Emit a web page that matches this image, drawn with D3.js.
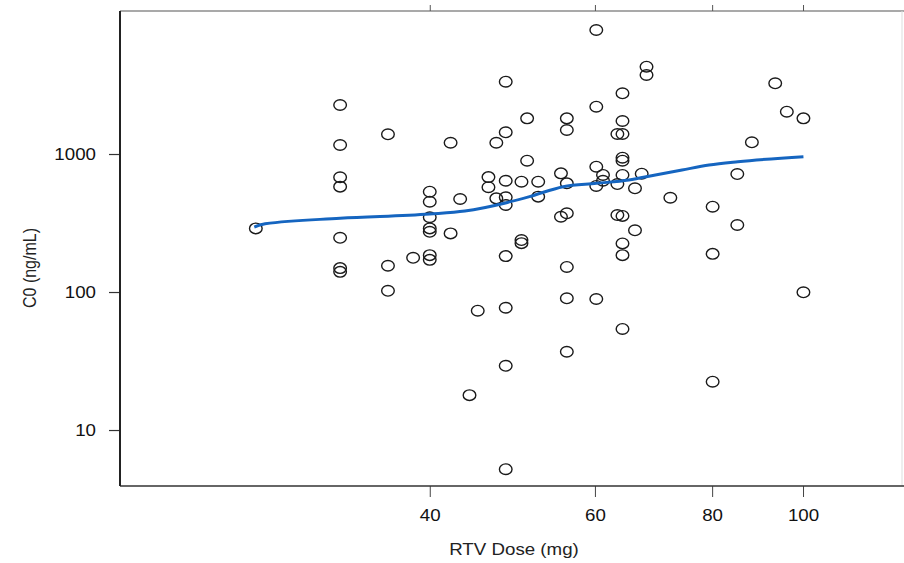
<!DOCTYPE html>
<html><head><meta charset="utf-8">
<script src="https://cdn.jsdelivr.net/npm/d3@7"></script>
<style>
body{margin:0;background:#fff}
svg{display:block}
text{font-family:"Liberation Sans",Arial,Helvetica,sans-serif}
</style>
</head><body>
<svg id="chart" width="904" height="563"></svg>
<script>
// ---- data ----
const doses = [
  26.1,
  32.1,32.1,32.1,32.1,32.1,32.1,32.1,
  36.1,36.1,36.1,
  38.4,
  40,40,40,40,40,40,40,
  42.1,42.1,
  43.1,
  44.1,
  45,
  46.2,46.2,
  47.1,47.1,
  48.2,48.2,48.2,48.2,48.2,48.2,48.2,48.2,48.2,
  50.1,50.1,50.1,
  50.8,50.8,
  52.2,52.2,
  55.2,55.2,
  56,56,56,56,56,56,56,
  60.2,60.2,60.2,60.2,60.2,
  61.2,61.2,
  63.4,63.4,63.4,
  64.2,64.2,64.2,64.2,64.2,64.2,64.2,64.2,64.2,64.2,
  66.2,66.2,
  67.3,
  68.1,68.1,
  72.2,
  80.1,80.1,80.1,
  85.1,85.1,
  88.2,
  93.4,
  96.1,
  100.1,100.1
];
const c0 = [
  289,
  2265,1162,678,580,247,149,140,
  1389,155,102,
  177,
  533,451,348,289,273,185,171,
  1207,266,
  472,
  17.9,
  73.2,
  680,575,
  1207,477,
  3342,1436,640,486,427,182,76.9,29.2,5.2,
  630,238,226,
  1813,894,
  630,491,
  724,351,
  1813,1493,613,372,152,90,36.9,
  7918,2202,809,587,89,
  705,640,
  1396,606,361,
  2754,1735,1396,940,894,705,356,225,185,54,
  564,280,
  720,
  4292,3737,
  482,
  415,189,22.4,
  716,306,
  1216,
  3253,
  2026,
  1813,99.5
];
const smoothDose = [26.0,26.7,32.1,40,43.6,48.3,51.1,55.5,60.2,65.2,69.6,74.3,79.4,85.2,100.1];
const smoothC0   = [296,312,342,367,386,444,491,580,613,648,705,766,832,879,956];
const xTicks = [40,60,80,100];
const yTicks = [10,100,1000];
const xTitle = "RTV Dose (mg)";
const yTitle = "C0 (ng/mL)";

// ---- layout ----
const L = 120, R = 902, T = 11, B = 486;
const SX = 1.17; // horizontal stretch of the reference glyphs

const svg = d3.select("#chart");
const x = d3.scaleLog().domain([18.7, 127.5]).range([L, R]);
const y = d3.scaleLog().domain([3.93, 10870]).range([B, T]);

// frame
svg.append("line").attr("x1",L).attr("x2",904).attr("y1",T).attr("y2",T)
  .attr("stroke","#555").attr("stroke-width",1.2);
svg.append("line").attr("x1",R).attr("x2",R).attr("y1",T).attr("y2",B)
  .attr("stroke","#ddd").attr("stroke-width",1);

// top ticks (mirrored)
svg.append("g").attr("transform",`translate(0,${T})`)
  .call(d3.axisTop(x).tickValues(xTicks).tickSize(6).tickFormat(""))
  .call(g=>{g.select(".domain").remove(); g.selectAll("line").attr("stroke","#555");});

// bottom axis
const gx = svg.append("g").attr("transform",`translate(0,${B})`)
  .call(d3.axisBottom(x).tickValues(xTicks).tickSize(11).tickPadding(0).tickFormat(d3.format("d")));
gx.select(".domain").remove();
gx.selectAll("line").attr("stroke","#444").attr("stroke-width",1);
gx.selectAll("text").attr("y",35).attr("dy",null)
  .attr("font-size",16).attr("fill","#111")
  .attr("transform",`scale(${SX},1)`);
svg.append("line").attr("x1",L).attr("x2",904).attr("y1",B).attr("y2",B)
  .attr("stroke","#333").attr("stroke-width",1.6);

// left axis
const gy = svg.append("g").attr("transform",`translate(${L},0)`)
  .call(d3.axisLeft(y).tickValues(yTicks).tickSize(11).tickFormat(d3.format("d")));
gy.select(".domain").remove();
gy.selectAll("line").attr("stroke","#333").attr("stroke-width",1.2);
gy.selectAll("text").attr("x",-24/SX).attr("dy","0.36em")
  .attr("font-size",16).attr("fill","#111")
  .attr("transform",`scale(${SX},1)`);
svg.append("line").attr("x1",L).attr("x2",L).attr("y1",T).attr("y2",B)
  .attr("stroke","#222").attr("stroke-width",2);

// axis titles
svg.append("text").attr("transform",`translate(514,555) scale(${SX},1)`)
  .attr("text-anchor","middle").attr("font-size",16).attr("fill","#222").text(xTitle);
svg.append("text").attr("transform",`translate(36,268) scale(${SX},1) rotate(-90)`)
  .attr("text-anchor","middle").attr("font-size",16).attr("fill","#222").text(yTitle);

// points
const pts = doses.map((d,i)=>({d, c:c0[i]}));
svg.append("g").selectAll("ellipse").data(pts).join("ellipse")
  .attr("cx",p=>x(p.d)).attr("cy",p=>y(p.c))
  .attr("rx",6.3).attr("ry",5.3)
  .attr("fill","none").attr("stroke","#1a1a1a").attr("stroke-width",1.4);

// smooth line
const sm = smoothDose.map((d,i)=>({d, c:smoothC0[i]}));
svg.append("path").datum(sm)
  .attr("d", d3.line().x(p=>x(p.d)).y(p=>y(p.c)).curve(d3.curveMonotoneX))
  .attr("fill","none").attr("stroke","#1565c0").attr("stroke-width",3);
</script>
</body></html>
